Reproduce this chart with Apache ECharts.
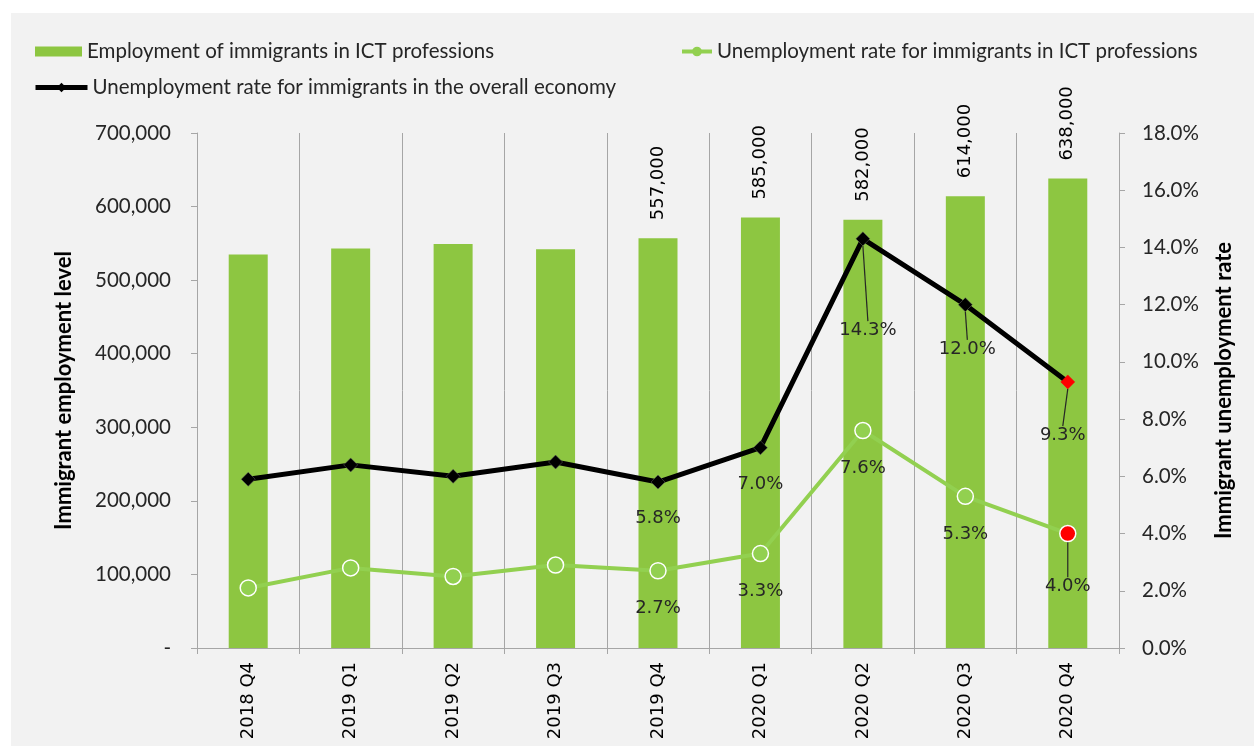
<!DOCTYPE html>
<html><head><meta charset="utf-8">
<script src="https://cdn.jsdelivr.net/npm/echarts@6/dist/echarts.min.js"></script>
<style>
html,body{margin:0;padding:0;background:#fff;}
#bg{position:absolute;left:11px;top:13px;width:1243px;height:733px;background:#f2f2f2;}
#chart{position:absolute;left:0;top:0;width:1254px;height:751px;}
</style>
</head><body><div id="bg"></div><div id="chart"></div>
<script>
const categories = ['2018 Q4','2019 Q1','2019 Q2','2019 Q3','2019 Q4','2020 Q1','2020 Q2','2020 Q3','2020 Q4'];
const employment = [535000, 543000, 549000, 542000, 557000, 585000, 582000, 614000, 638000];
const ictUnemployment = [2.1, 2.8, 2.5, 2.9, 2.7, 3.3, 7.6, 5.3, 4.0];
const overallUnemployment = [5.9, 6.4, 6.0, 6.5, 5.8, 7.0, 14.3, 12.0, 9.3];
const labelFrom = 4; // labels shown from 2019 Q4 onward
const seriesNames = [
  'Employment of immigrants in ICT professions',
  'Unemployment rate for immigrants in ICT professions',
  'Unemployment rate for immigrants in the overall economy'
];
const leftAxisName = 'Immigrant employment level';
const rightAxisName = 'Immigrant unemployment rate';

const BAR = '#8DC641', LGREEN = '#92D050', TXT = '#262626';
const tickFont = 'Lato', dataFont = 'DejaVu Sans';

// label offsets (layout only)
const overallMoves = {6:{dx:5,dy:55}, 7:{dx:2,dy:8}, 8:{dx:-5,dy:17}};
const ictMoves = {8:{dx:0,dy:15}};

const chart = echarts.init(document.getElementById('chart'), null, {renderer:'canvas'});
const last = categories.length - 1;

const barData = employment.map((v,i)=>({value:v, label:{show:i>=labelFrom}}));
const ictData = ictUnemployment.map((v,i)=>{
  const d = {value:v, label:{show:i>=labelFrom}};
  if (ictMoves[i]) d.labelLine = {show:true};
  if (i===last) d.itemStyle = {color:'#FF0000', borderColor:'#ffffff'};
  return d;
});
const overallData = overallUnemployment.map((v,i)=>{
  const d = {value:v, label:{show:i>=labelFrom}};
  if (overallMoves[i]) d.labelLine = {show:true};
  if (i===last) d.itemStyle = {color:'#FF0000', borderColor:'#FF0000'};
  return d;
});

const legendText = {fontFamily:tickFont, fontSize:20.5, color:TXT};
const option = {
  animation:false,
  backgroundColor:'transparent',
  legend:[
    {data:[seriesNames[0]], left:35, top:41, padding:0, itemWidth:47, itemHeight:10, textStyle:legendText, icon:'rect'},
    {data:[seriesNames[1]], left:680, top:41, padding:0, itemWidth:30, itemHeight:12, textStyle:legendText,
     lineStyle:{width:4, color:LGREEN}, itemStyle:{color:LGREEN, borderWidth:0}},
    {data:[seriesNames[2]], left:33, top:77, padding:0, itemWidth:52, itemHeight:12, textStyle:legendText,
     lineStyle:{width:5, color:'#000'}, itemStyle:{color:'#000', borderWidth:0}}
  ],
  grid:{left:197, right:135, top:133, bottom:103, containLabel:false},
  xAxis:{
    type:'category', data:categories,
    axisLine:{show:true, lineStyle:{color:'#a6a6a6', width:1}},
    axisTick:{show:true, length:6, lineStyle:{color:'#a6a6a6'}},
    splitLine:{show:true, lineStyle:{color:'#a6a6a6', width:1}},
    axisLabel:{rotate:90, fontFamily:dataFont, fontSize:18, color:'#000', margin:14}
  },
  yAxis:[
    {type:'value', min:0, max:700000, interval:100000, position:'left',
     name:leftAxisName, nameLocation:'middle', nameRotate:90, nameGap:122,
     nameTextStyle:{fontFamily:tickFont, fontSize:22, fontWeight:'bold', color:'#000'},
     axisLine:{show:true, lineStyle:{color:'#a6a6a6'}},
     axisTick:{show:true, length:6, lineStyle:{color:'#a6a6a6'}},
     splitLine:{show:false},
     axisLabel:{fontFamily:tickFont, fontSize:20.5, color:TXT, margin:26,
       formatter:v=> v===0 ? '-' : v.toLocaleString('en-US')}},
    {type:'value', min:0, max:18, interval:2, position:'right',
     name:rightAxisName, nameLocation:'middle', nameRotate:90, nameGap:94,
     nameTextStyle:{fontFamily:tickFont, fontSize:22, fontWeight:'bold', color:'#000'},
     axisLine:{show:true, lineStyle:{color:'#a6a6a6'}},
     axisTick:{show:true, length:6, lineStyle:{color:'#a6a6a6'}},
     splitLine:{show:false},
     axisLabel:{fontFamily:tickFont, fontSize:20.5, color:TXT, margin:23,
       formatter:v=> v.toFixed(1)+'%'}}
  ],
  series:[
    {name:seriesNames[0], type:'bar', data:barData, barWidth:39, yAxisIndex:0,
     itemStyle:{color:BAR},
     label:{position:'top', rotate:90, align:'left', verticalAlign:'middle', distance:18,
       fontFamily:dataFont, fontSize:18, color:'#000',
       formatter:p=>p.value.toLocaleString('en-US')}},
    {name:seriesNames[1], type:'line', data:ictData, yAxisIndex:1, z:3,
     lineStyle:{color:LGREEN, width:4}, itemStyle:{color:LGREEN, borderColor:'#ffffff', borderWidth:1.5},
     symbol:'circle', symbolSize:16, showAllSymbol:true,
     label:{position:'bottom', distance:20, fontFamily:dataFont, fontSize:18, color:TXT,
       formatter:p=>p.value.toFixed(1)+'%'},
     labelLine:{lineStyle:{color:TXT, width:1.2}},
     labelLayout:p=> ictMoves[p.dataIndex] || {}},
    {name:seriesNames[2], type:'line', data:overallData, yAxisIndex:1, z:4,
     lineStyle:{color:'#000', width:5}, itemStyle:{color:'#000', borderColor:'#666', borderWidth:0.5},
     symbol:'diamond', symbolSize:14, showAllSymbol:true,
     label:{position:'bottom', distance:20, fontFamily:dataFont, fontSize:18, color:TXT,
       formatter:p=>p.value.toFixed(1)+'%'},
     labelLine:{lineStyle:{color:TXT, width:1.2}},
     labelLayout:p=> overallMoves[p.dataIndex] || {}}
  ]
};
chart.setOption(option);
</script>
</body></html>
